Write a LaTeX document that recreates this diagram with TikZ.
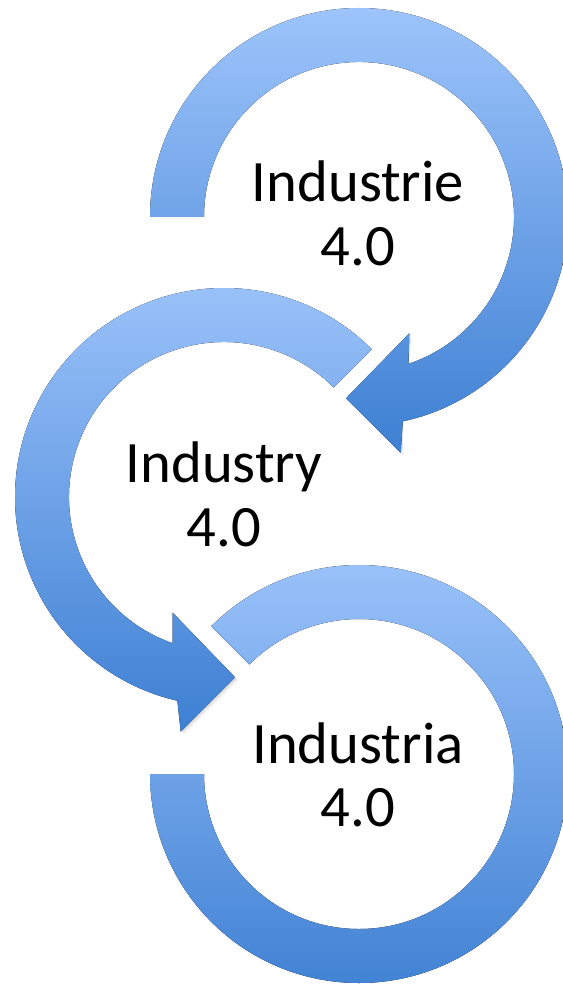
\documentclass[tikz,border=0pt]{standalone}
\usepackage{fontspec}
\setmainfont{Carlito}
\usetikzlibrary{calc}
\definecolor{ringlight}{RGB}{157,196,251}
\definecolor{ringmid}{RGB}{136,181,242}
\definecolor{ringdark}{RGB}{62,128,211}
\tikzset{
  ringshade/.style={top color=ringlight, middle color=ringmid, bottom color=ringdark, draw=none},
  ringshadow/.style={fill=black, fill opacity=0.035, draw=none},
  label/.style={font=\fontsize{44}{47.5}\selectfont, text=black, inner sep=0pt, anchor=base}
}
\begin{document}
\begin{tikzpicture}[x=0.75pt, y=-0.75pt]
\useasboundingbox (0,0) rectangle (563,984);
\fill[white] (0,0) rectangle (563,984);
\coordinate (c1) at (359,217);
\coordinate (c2) at (224,497);
\coordinate (c3) at (359,774);
\def\topring{($(c1)+(180:209)$) arc[start angle=180, end angle=437.9, radius=209]
  -- (400.7,452.7) -- (346,398.3) -- (409.3,333.3)
  -- ($(c1)+(431.4:155)$) arc[start angle=431.4, end angle=180, radius=155] -- cycle}
\def\midring{($(c2)+(-45:209)$) arc[start angle=-45, end angle=-257.1, radius=209]
  -- (180.7,731.7) -- (235,677.3) -- (172.7,612.7)
  -- ($(c2)+(-250.6:155)$) arc[start angle=-250.6, end angle=-45, radius=155] -- cycle}
\def\botring{($(c3)+(225:209)$) arc[start angle=225, end angle=540, radius=209]
  -- ($(c3)+(180:155)$) arc[start angle=540, end angle=225, radius=155] -- cycle}
% soft shadows
\foreach \s in {1,2,3,4}{
  \fill[ringshadow, xshift=\s*0.6pt, yshift=-\s*0.6pt] \topring;
  \fill[ringshadow, xshift=\s*0.6pt, yshift=-\s*0.6pt] \midring;
  \fill[ringshadow, xshift=\s*0.6pt, yshift=-\s*0.6pt] \botring;
}
\fill[ringshade] \topring;
\fill[ringshade] \midring;
\fill[ringshade] \botring;
% labels
\node[label] (t1a) at (358,201.7) {Industrie};
\node[label] (t1b) at (358,265) {4.0};
\node[label] (t2a) at (224,482.7) {Industry};
\node[label] (t2b) at (224,546) {4.0};
\node[label] (t3a) at (358,763.3) {Industria};
\node[label] (t3b) at (358,826.7) {4.0};
\end{tikzpicture}
\end{document}
